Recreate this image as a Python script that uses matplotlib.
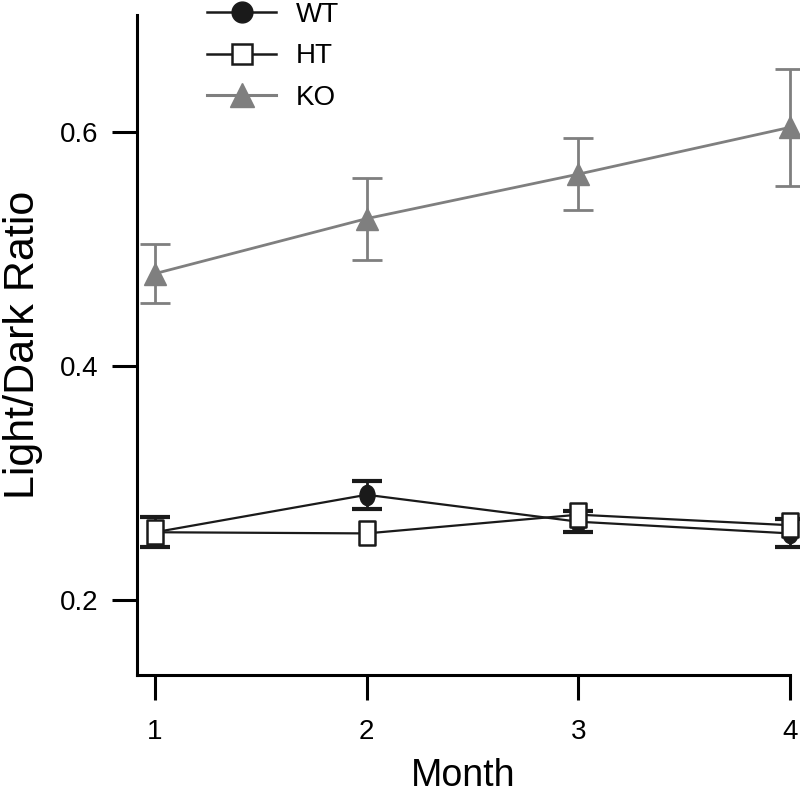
import matplotlib
import matplotlib.pyplot as plt
import numpy as np
from matplotlib.path import Path
from matplotlib.transforms import Affine2D
from matplotlib.lines import Line2D

plt.switch_backend('agg')
plt.rcParams['font.family'] = ['Liberation Sans', 'DejaVu Sans']

months = [1, 2, 3, 4]
wt_mean = [0.258, 0.290, 0.267, 0.257]
wt_err = [0.013, 0.012, 0.009, 0.012]
ht_mean = [0.258, 0.257, 0.273, 0.264]
ht_err = [0.006, 0.004, 0.006, 0.006]
ko_mean = [0.479, 0.526, 0.564, 0.604]
ko_err = [0.025, 0.035, 0.031, 0.050]
labels = ['WT', 'HT', 'KO']

gray = '#7f7f7f'
dark = '#1a1a1a'
# markers in the source look stretched vertically
oval = Path.unit_circle().transformed(Affine2D().scale(0.75, 1.0))
tall_box = Path([(-0.67, -1), (0.67, -1), (0.67, 1), (-0.67, 1), (-0.67, -1)],
                [Path.MOVETO, Path.LINETO, Path.LINETO, Path.LINETO, Path.CLOSEPOLY])

fig = plt.figure(figsize=(8, 7.96), dpi=100)
ax = fig.add_axes([137/800, 1-675/796, (790-137)/800, (675-15)/796])

ax.errorbar(months, ko_mean, yerr=ko_err, color=gray, lw=2, marker='^', ms=16,
            mfc=gray, mec=gray, capsize=11, capthick=2, elinewidth=2,
            clip_on=False, zorder=3)
ax.errorbar(months, wt_mean, yerr=wt_err, color=dark, lw=1.6, marker=oval, ms=14.5,
            mfc=dark, mec=dark, capsize=11, capthick=3, elinewidth=2,
            clip_on=False, zorder=4)
# HT error bars are small and hidden behind the squares
ax.errorbar(months, ht_mean, yerr=ht_err, fmt='none', ecolor=dark, capsize=4,
            capthick=2, elinewidth=2, clip_on=False, zorder=2)
ax.plot(months, ht_mean, color=dark, lw=1.6, marker=tall_box, ms=17,
        mfc='white', mec=dark, mew=1.8, clip_on=False, zorder=5)

ax.set_xlim(0.915, 4.0)
ax.set_ylim(0.136, 0.70)
ax.set_xticks(months)
ax.set_yticks([0.2, 0.4, 0.6])
ax.set_yticklabels(['0.2', '0.4', '0.6'])
ax.spines['top'].set_visible(False)
ax.spines['right'].set_visible(False)
for s in ['left', 'bottom']:
    ax.spines[s].set_linewidth(2.2)
ax.tick_params(axis='both', length=18, width=2.2, labelsize=20, pad=10)
ax.tick_params(axis='x', pad=14)
ax.set_xlabel('Month', fontsize=27, labelpad=9)
ax.set_ylabel('Light/Dark Ratio', fontsize=31, labelpad=12)

handles = [
    Line2D([], [], color=dark, lw=1.8, marker='o', ms=15, mfc=dark, mec=dark),
    Line2D([], [], color=dark, lw=1.8, marker='s', ms=15, mfc='white', mec=dark, mew=1.8),
    Line2D([], [], color=gray, lw=2.2, marker='^', ms=17, mfc=gray, mec=gray),
]
fig.legend(handles, labels, loc='upper left', bbox_to_anchor=(207/800, 1-2/796),
           frameon=False, fontsize=20, handlelength=2.5, handletextpad=0.7,
           labelspacing=0.55, borderpad=0, borderaxespad=0)

fig.savefig('out.png', dpi=100)
